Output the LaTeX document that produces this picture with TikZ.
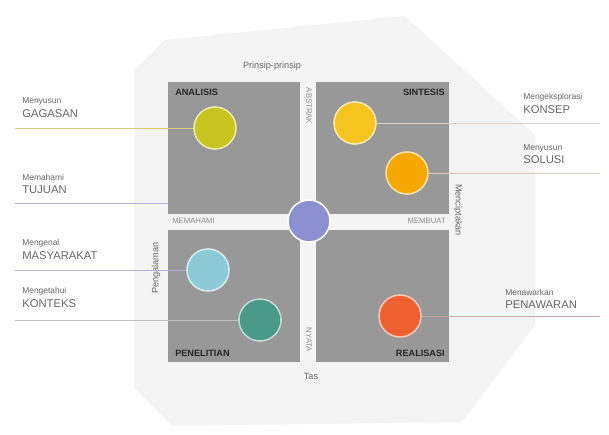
\documentclass[tikz,border=0pt]{standalone}
\usepackage{fontspec}
\setmainfont{Liberation Sans}
\usetikzlibrary{positioning}

\definecolor{quadgray}{RGB}{152,152,152}
\definecolor{dotolive}{RGB}{200,196,32}
\definecolor{dotyellow}{RGB}{246,196,30}
\definecolor{dotorange}{RGB}{246,168,0}
\definecolor{dotsky}{RGB}{140,202,214}
\definecolor{dotteal}{RGB}{74,154,136}
\definecolor{dotred}{RGB}{238,96,48}
\definecolor{dotblue}{RGB}{140,144,208}

\begin{document}
\begin{tikzpicture}[x=0.025cm, y=-0.025cm,
    quad/.style={fill=quadgray, minimum size=3.3cm, inner sep=0pt},
    dot/.style={circle, fill=#1, draw=#1!35!white, line width=1.1pt, minimum size=1.05cm, inner sep=0pt},
    qlabel/.style={font=\bfseries\fontsize{6.5}{7}\selectfont, text=black!85, inner sep=0pt},
    crosslbl/.style={font=\fontsize{5.5}{6}\selectfont, text=black!45, inner sep=0pt},
    axislbl/.style={font=\fontsize{6.5}{7}\selectfont, text=black!60, inner sep=0pt},
    smalltxt/.style={font=\fontsize{6}{7}\selectfont, text=black!60, inner sep=0pt, anchor=west},
    bigtxt/.style={font=\fontsize{8}{9}\selectfont, text=black!60, inner sep=0pt, anchor=west},
    callout/.style={line width=0.7pt, draw=#1}]

    \useasboundingbox (0,0) rectangle (609,434);

    % Grey arrow-like backdrop
    \fill[gray!9] (165,40) -- (405,16) -- (535,135) -- (535,325) -- (462,422)
        -- (172,426) -- (134,388) -- (134,70) -- cycle;

    % Four quadrants
    \node[quad] (qA) at (234,148) {};
    \node[quad] (qS) at (382.5,148) {};
    \node[quad] (qP) at (234,296) {};
    \node[quad] (qR) at (382.5,296) {};

    % Quadrant titles
    \node[qlabel, anchor=north west] (tA) at (175,89) {ANALISIS};
    \node[qlabel, anchor=north east] (tS) at (445,89) {SINTESIS};
    \node[qlabel, anchor=south west] (tP) at (175,357) {PENELITIAN};
    \node[qlabel, anchor=south east] (tR) at (445,357) {REALISASI};

    % Labels along the white cross
    \node[crosslbl, rotate=-90] (abstrak) at (309,106) {ABSTRAK};
    \node[crosslbl, rotate=-90] (nyata) at (309,340) {NYATA};
    \node[crosslbl, anchor=west] (memahami) at (172,221) {MEMAHAMI};
    \node[crosslbl, anchor=east] (membuat) at (446,221) {MEMBUAT};

    % Axis labels round the square
    \node[axislbl] (prinsip) at (272,66) {Prinsip-prinsip};
    \node[axislbl] (tas) at (311,376) {Tas};
    \node[axislbl, rotate=90] (pengalaman) at (156,268) {Pengalaman};
    \node[axislbl, rotate=-90] (mencipta) at (458,210) {Menciptakan};

    % Circles
    \node[dot=dotolive] (gagasan) at (215,128) {};
    \node[dot=dotyellow] (konsep) at (355,123) {};
    \node[dot=dotorange] (solusi) at (407,173) {};
    \node[dot=dotsky] (masyarakat) at (208,270) {};
    \node[dot=dotteal] (konteks) at (260,320) {};
    \node[dot=dotred] (penawaran) at (400,316) {};
    \node[dot=dotblue, draw=white] (pusat) at (309,221) {};

    % Left captions
    \node[smalltxt] (capGa) at (22,101) {Menyusun};
    \node[bigtxt] (capGb) at (22,114) {GAGASAN};
    \node[smalltxt] (capTa) at (22,177) {Memahami};
    \node[bigtxt] (capTb) at (22,190) {TUJUAN};
    \node[smalltxt] (capMa) at (22,243) {Mengenal};
    \node[bigtxt] (capMb) at (22,256) {MASYARAKAT};
    \node[smalltxt] (capKa) at (22,291) {Mengetahui};
    \node[bigtxt] (capKb) at (22,304) {KONTEKS};

    % Right captions
    \node[smalltxt] (capSa) at (523,97) {Mengeksplorasi};
    \node[bigtxt] (capSb) at (523,110) {KONSEP};
    \node[smalltxt] (capLa) at (523,148) {Menyusun};
    \node[bigtxt] (capLb) at (523,160) {SOLUSI};
    \node[smalltxt] (capPa) at (505,292) {Menawarkan};
    \node[bigtxt] (capPb) at (505,305) {PENAWARAN};

    % Callout lines
    \coordinate (eGagasan) at (15,128);
    \coordinate (eTujuan) at (15,203);
    \coordinate (eMasyarakat) at (15,270);
    \coordinate (eKonteks) at (15,320);
    \coordinate (eKonsep) at (600,123);
    \coordinate (eSolusi) at (600,173);
    \coordinate (ePenawaran) at (600,316);
    \draw[callout=olive!40] (eGagasan) -- (gagasan.west);
    \draw[callout=blue!25!gray!50] (eTujuan) -- (eTujuan -| qA.west);
    \draw[callout=blue!20!gray!50] (eMasyarakat) -- (masyarakat.west);
    \draw[callout=gray!50] (eKonteks) -- (konteks.west);
    \draw[callout=orange!25!gray!35] (konsep.east) -- (eKonsep);
    \draw[callout=orange!30!gray!40] (solusi.east) -- (eSolusi);
    \draw[callout=red!20!gray!55] (penawaran.east) -- (ePenawaran);

\end{tikzpicture}
\end{document}
